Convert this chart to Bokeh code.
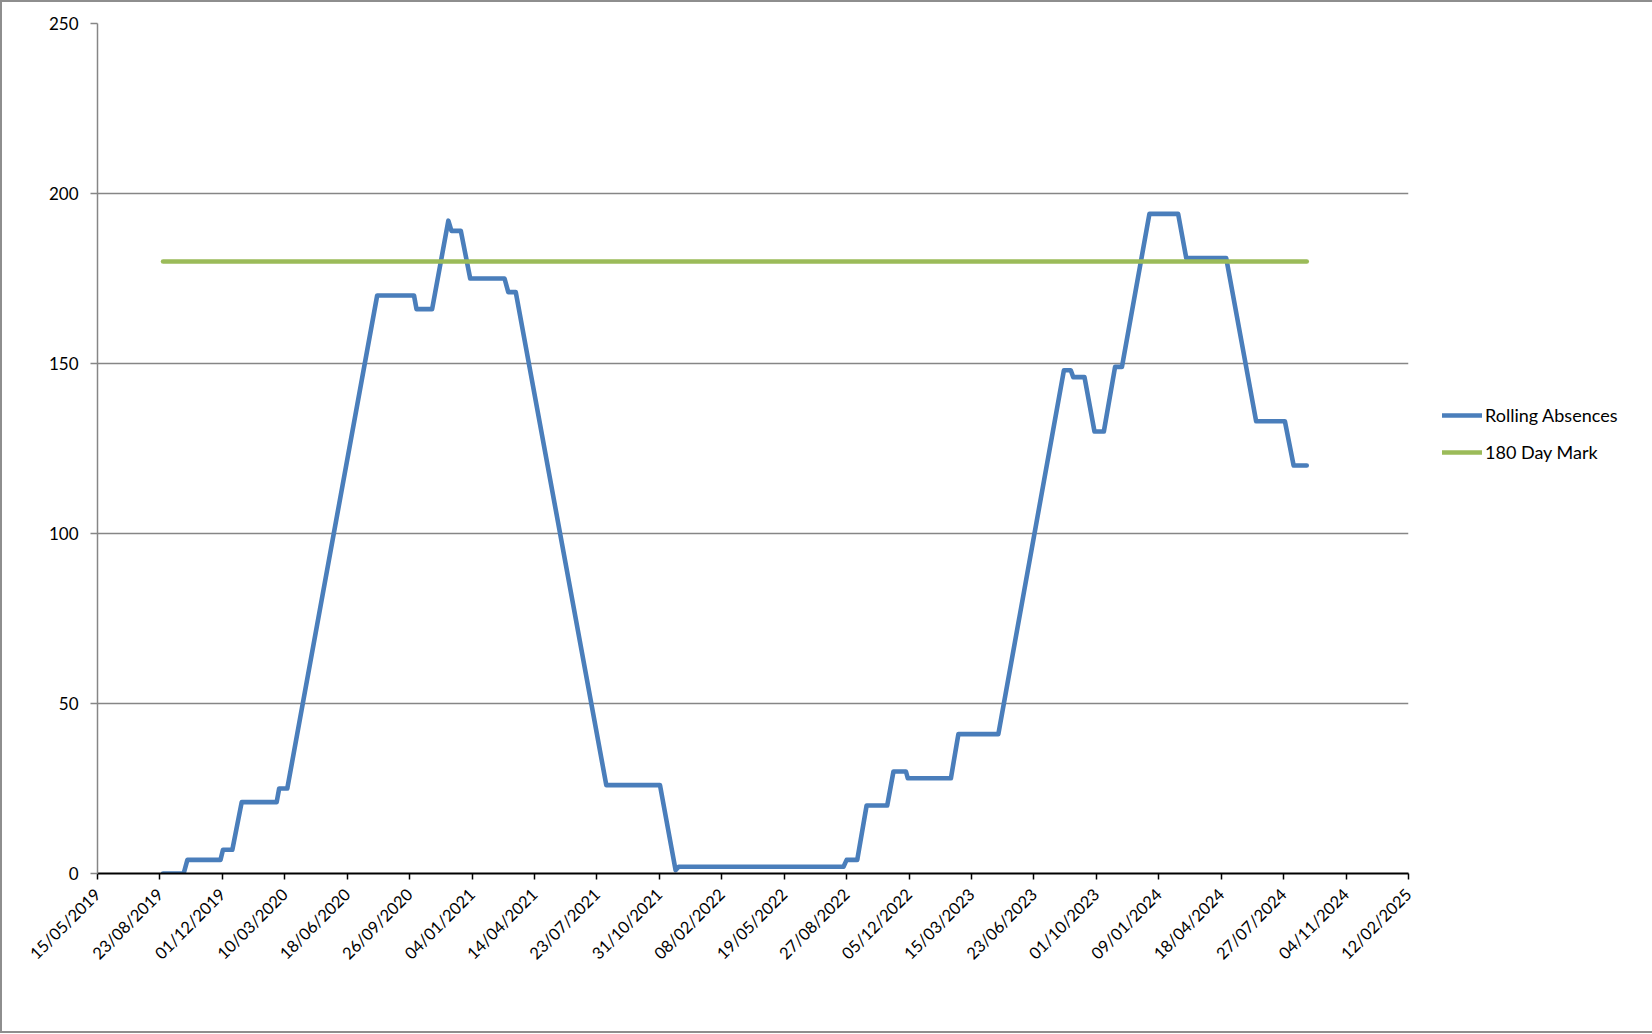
from datetime import datetime
from math import pi

from bokeh.plotting import figure
from bokeh.models import (ColumnDataSource, Range1d, FixedTicker, DatetimeTickFormatter,
                          Legend, LegendItem)
from bokeh.embed import file_html
from bokeh.resources import INLINE

# ---------------- data ----------------
absence_dates = [
    "2019-08-28", "2019-09-30", "2019-10-06", "2019-11-28", "2019-12-02", "2019-12-17",
    "2020-01-01", "2020-02-26", "2020-03-01", "2020-03-14", "2020-08-05", "2020-10-03",
    "2020-10-07", "2020-11-01", "2020-11-27", "2020-12-02", "2020-12-17", "2021-01-01",
    "2021-02-25", "2021-03-03", "2021-03-15", "2021-08-07", "2021-11-01", "2021-11-26",
    "2021-12-01", "2022-08-22", "2022-08-27", "2022-09-13", "2022-09-28", "2022-10-31",
    "2022-11-10", "2022-11-30", "2022-12-03", "2023-02-10", "2023-02-22", "2023-04-27",
    "2023-08-10", "2023-08-21", "2023-08-25", "2023-09-12", "2023-09-28", "2023-10-13",
    "2023-10-31", "2023-11-11", "2023-12-25", "2024-02-09", "2024-02-22", "2024-04-26",
    "2024-06-13", "2024-07-29", "2024-08-12", "2024-09-02",
]
rolling_absences = [
    0, 0, 4, 4, 7, 7,
    21, 21, 25, 25, 170, 170,
    166, 166, 192, 189, 189, 175,
    175, 171, 171, 26, 26, 1,
    2, 2, 4, 4, 20, 20,
    30, 30, 28, 28, 41, 41,
    148, 148, 146, 146, 130, 130,
    149, 149, 194, 194, 181, 181,
    133, 133, 120, 120,
]
mark_dates = ["2019-08-28", "2024-09-02"]
mark_values = [180, 180]

x_tick_labels = [
    "15/05/2019", "23/08/2019", "01/12/2019", "10/03/2020", "18/06/2020", "26/09/2020",
    "04/01/2021", "14/04/2021", "23/07/2021", "31/10/2021", "08/02/2022", "19/05/2022",
    "27/08/2022", "05/12/2022", "15/03/2023", "23/06/2023", "01/10/2023", "09/01/2024",
    "18/04/2024", "27/07/2024", "04/11/2024", "12/02/2025",
]
y_ticks = [0, 50, 100, 150, 200, 250]

series_names = ["Rolling Absences", "180 Day Mark"]

# ---------------- build ----------------
FONT = "Lato"
BLUE = "#4A7EBB"
GREEN = "#9BBB59"
GRID = "#868686"

def to_dt(s, fmt="%Y-%m-%d"):
    return datetime.strptime(s, fmt)

tick_dts = [to_dt(s, "%d/%m/%Y") for s in x_tick_labels]
tick_ms = [(d - datetime(1970, 1, 1)).total_seconds() * 1000.0 for d in tick_dts]

src_abs = ColumnDataSource(dict(x=[to_dt(s) for s in absence_dates], y=rolling_absences))
src_mark = ColumnDataSource(dict(x=[to_dt(s) for s in mark_dates], y=mark_values))

p = figure(width=1646, height=1029, x_axis_type="datetime",
           output_backend="svg", toolbar_location=None,
           x_range=Range1d(tick_dts[0], tick_dts[-1]),
           y_range=Range1d(y_ticks[0], y_ticks[-1]),
           min_border_left=95, min_border_right=240, min_border_top=21, min_border_bottom=158)
p.frame_width = 1311
p.frame_height = 850
p.outline_line_color = None
p.background_fill_color = "white"
p.border_fill_color = "white"
p.styles = {"border": "2px solid #8e8e8e"}

r_abs = p.line("x", "y", source=src_abs, line_color=BLUE, line_width=4.6,
               line_join="round", line_cap="round")
r_mark = p.line("x", "y", source=src_mark, line_color=GREEN, line_width=4.6,
                line_cap="round")

# grid
p.xgrid.grid_line_color = None
p.ygrid.grid_line_color = GRID
p.ygrid.grid_line_width = 1.3
p.ygrid.ticker = FixedTicker(ticks=y_ticks)

# x axis
xa = p.xaxis[0]
xa.ticker = FixedTicker(ticks=tick_ms)
xa.formatter = DatetimeTickFormatter(
    days="%d/%m/%Y", months="%d/%m/%Y", years="%d/%m/%Y", hours="%d/%m/%Y",
    minutes="%d/%m/%Y", seconds="%d/%m/%Y", milliseconds="%d/%m/%Y",
    microseconds="%d/%m/%Y", hourmin="%d/%m/%Y", minsec="%d/%m/%Y")
xa.major_label_orientation = pi / 4
xa.axis_line_color = "black"
xa.axis_line_width = 2
xa.major_tick_line_color = "black"
xa.major_tick_line_width = 1.5
xa.major_tick_out = 6
xa.major_tick_in = 0
xa.minor_tick_line_color = None
xa.major_label_text_font = FONT
xa.major_label_text_font_size = "16.5px"
xa.major_label_text_color = "black"
xa.major_label_standoff = 12

# y axis
ya = p.yaxis[0]
ya.ticker = FixedTicker(ticks=y_ticks)
ya.axis_line_color = GRID
ya.axis_line_width = 1.5
ya.major_tick_line_color = GRID
ya.major_tick_line_width = 1.5
ya.major_tick_out = 7
ya.major_tick_in = 0
ya.minor_tick_line_color = None
ya.major_label_text_font = FONT
ya.major_label_text_font_size = "17px"
ya.major_label_text_color = "black"
ya.major_label_standoff = 12

legend = Legend(items=[LegendItem(label=series_names[0], renderers=[r_abs]),
                       LegendItem(label=series_names[1], renderers=[r_mark])],
                location=(34, 410), orientation="vertical",
                glyph_width=40, glyph_height=20, label_height=20, label_standoff=3,
                spacing=15, padding=0, margin=0,
                border_line_color=None, background_fill_alpha=0,
                label_text_font=FONT, label_text_font_size="18px",
                label_text_color="black")
p.add_layout(legend, "right")

open("out.html", "w").write(file_html(p, INLINE))
